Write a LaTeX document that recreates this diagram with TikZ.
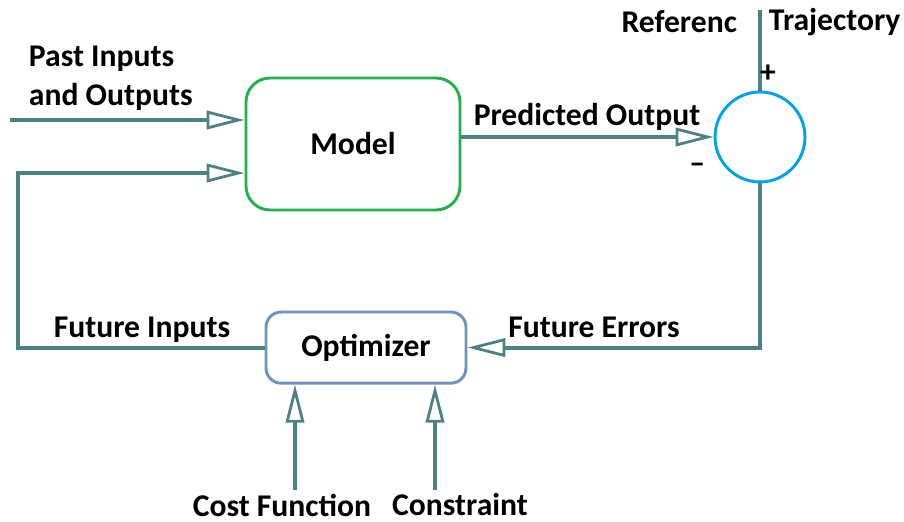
\documentclass[tikz,border=0pt]{standalone}
\usepackage{fontspec}
\setmainfont{Carlito}
\usetikzlibrary{calc, arrows.meta}
\definecolor{wire}{RGB}{78,130,130}
\definecolor{modelgreen}{RGB}{34,177,76}
\definecolor{optblue}{RGB}{112,146,190}
\definecolor{sumcyan}{RGB}{0,162,232}
\tikzset{
  lbl/.style={font=\fontsize{22.5}{28}\selectfont\bfseries},
  flow/.style={wire, line width=2.8pt, -{Triangle[open, length=0.95cm, width=0.46cm, line width=2pt]}},
  plain/.style={wire, line width=2.8pt}
}

\begin{document}
\begin{tikzpicture}
  \useasboundingbox (0,0) rectangle (22.6,13.05);
  \coordinate (pastin) at (0.25,10.05);
  \coordinate (fbcorner) at (0.45,8.725);
  \coordinate (reftop) at (19.0,12.8);
  \coordinate (costin) at (7.375,0.8);
  \coordinate (consin) at (10.875,0.8);
  \node[draw=modelgreen, line width=2.1pt, rounded corners=0.6cm,
        minimum width=5.35cm, minimum height=3.3cm, lbl] (model) at (8.825,9.45) {Model};
  \node[draw=optblue, line width=2.1pt, rounded corners=0.38cm,
        minimum width=5.0cm, minimum height=1.78cm, lbl] (optimizer) at (9.15,4.36) {Optimizer};
  \node[draw=sumcyan, line width=2.1pt, circle, minimum size=2.25cm] (sum) at (19.0,9.625) {};
  \draw[flow] (pastin) -- (pastin -| model.west);
  \draw[flow] (optimizer.west) -| (fbcorner) -- (fbcorner -| model.west);
  \draw[flow] (model.east |- sum.west) -- (sum.west);
  \draw[plain] (reftop) -- (sum.north);
  \draw[flow] (sum.south) |- (optimizer.east);
  \draw[flow] (costin) -- (costin |- optimizer.south);
  \draw[flow] (consin) -- (consin |- optimizer.south);
  \node[lbl, align=left, anchor=west] at (0.6,11.1) {Past Inputs\\and Outputs};
  \node[lbl] at (14.675,10.125) {Predicted Output};
  \node[lbl, anchor=east] at (18.55,12.5) {Referenc};
  \node[lbl, anchor=west] at (19.1,12.5) {Trajectory};
  \node[lbl] at (19.2,11.2) {+};
  \node[lbl] at (17.43,8.85) {\textendash};
  \node[lbl] at (3.55,4.8) {Future Inputs};
  \node[lbl] at (14.85,4.875) {Future Errors};
  \node[lbl] at (7.05,0.425) {Cost Function};
  \node[lbl] at (11.5,0.425) {Constraint};
\end{tikzpicture}
\end{document}
